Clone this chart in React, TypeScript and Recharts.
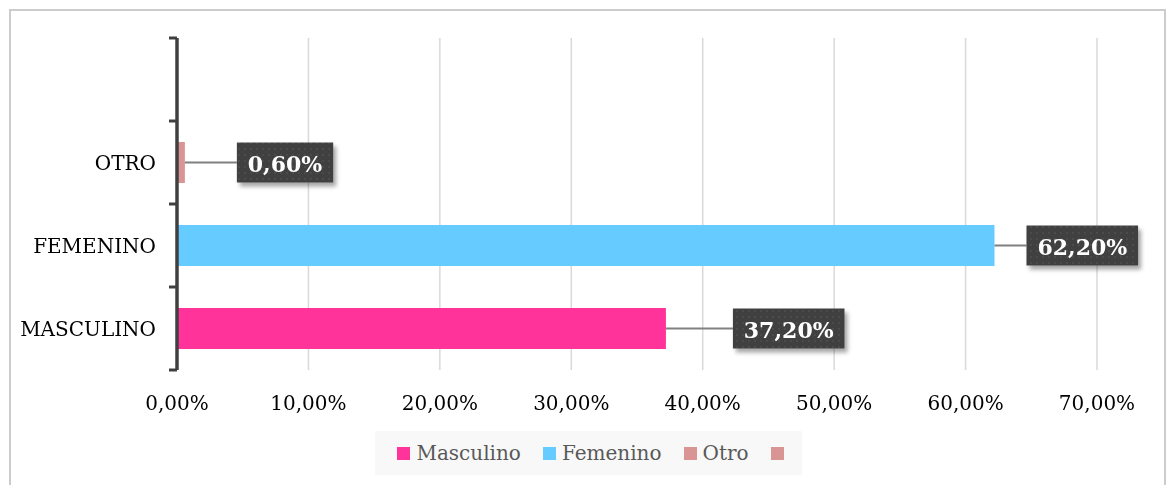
import React from "react";
import {
  BarChart,
  Bar,
  Cell,
  XAxis,
  YAxis,
  CartesianGrid,
  Legend,
  LabelList,
} from "recharts";

// categorías de arriba hacia abajo (la primera queda vacía, como en el original)
const CATEGORIES = ["", "OTRO", "FEMENINO", "MASCULINO"];
const SHARES: (number | null)[] = [null, 0.6, 62.2, 37.2];
const BAR_COLORS = ["#D99594", "#D99594", "#66CCFF", "#FF3399"];

const LEGEND_NAMES = ["Masculino", "Femenino", "Otro", ""];
const LEGEND_COLORS = ["#FF3399", "#66CCFF", "#D99594", "#D99594"];

const X_TICKS = [0, 10, 20, 30, 40, 50, 60, 70];

const data = CATEGORIES.map((cat, i) => ({ cat, value: SHARES[i] }));

// distancia entre el final de la barra y la etiqueta, por categoría
const LABEL_GAPS = [0, 52, 32, 67];

const CHART_W = 1161;
const CHART_H = 469;
const TOP = 30;
const PLOT_H = 332;
const BAND = PLOT_H / CATEGORIES.length;

const SERIF = "'DejaVu Serif', serif";

const fmt = (v: number) => `${v.toFixed(2).replace(".", ",")}%`;

const textWidth = (s: string) =>
  s.split("").reduce((w, c) => w + (c === "," ? 8.4 : c === "%" ? 22 : 15.3), 0);

const renderLabel = (props: any) => {
  const { x, y, width, height, value } = props;
  if (value == null) return null;
  const label = fmt(Number(value));
  const endX = Number(x) + Number(width);
  const cy = Number(y) + Number(height) / 2;
  const idx = SHARES.indexOf(Number(value));
  const gap = LABEL_GAPS[idx] ?? 50;
  const boxW = textWidth(label) + 20;
  const boxX = endX + gap;
  return (
    <g>
      <line x1={endX} y1={cy} x2={boxX} y2={cy} stroke="#808080" strokeWidth={2} />
      <rect
        x={boxX}
        y={cy - 20}
        width={boxW}
        height={40}
        fill="url(#dots)"
        filter="url(#boxShadow)"
      />
      <text
        x={boxX + boxW / 2}
        y={cy + 1}
        textAnchor="middle"
        dominantBaseline="central"
        fill="#fff"
        fontFamily={SERIF}
        fontWeight="bold"
        fontSize={22}
      >
        {label}
      </text>
    </g>
  );
};

const YTick = (props: any) => {
  const { x, y, payload, index } = props;
  const ax = Number(x);
  const last = index === CATEGORIES.length - 1;
  return (
    <g>
      <line x1={ax - 8} y1={y - BAND / 2} x2={ax} y2={y - BAND / 2} stroke="#404040" strokeWidth={3} />
      {last && (
        <line x1={ax - 8} y1={y + BAND / 2} x2={ax} y2={y + BAND / 2} stroke="#404040" strokeWidth={3} />
      )}
      <text
        x={ax - 21}
        y={y}
        textAnchor="end"
        dominantBaseline="central"
        fill="#000"
        fontFamily={SERIF}
        fontSize={20}
      >
        {payload.value}
      </text>
    </g>
  );
};

const XTick = (props: any) => {
  const { x, y, payload } = props;
  return (
    <text
      x={x}
      y={Number(y) + 40}
      textAnchor="middle"
      fill="#000"
      fontFamily={SERIF}
      fontSize={20}
    >
      {fmt(payload.value)}
    </text>
  );
};

const LegendBox = () => (
  <div style={{ display: "flex", justifyContent: "center" }}>
    <div
      style={{
        display: "flex",
        alignItems: "center",
        background: "#f8f8f8",
        height: 44,
        padding: "0 18px 0 22px",
        fontFamily: SERIF,
        fontSize: 20,
        color: "#595959",
      }}
    >
      {LEGEND_NAMES.map((name, i) => (
        <div
          key={i}
          style={{
            display: "flex",
            alignItems: "center",
            marginRight: i < LEGEND_NAMES.length - 1 ? 22 : 0,
          }}
        >
          <span
            style={{
              width: 13,
              height: 13,
              background: LEGEND_COLORS[i],
              display: "inline-block",
              marginRight: name ? 6 : 0,
            }}
          />
          {name && <span>{name}</span>}
        </div>
      ))}
    </div>
  </div>
);

export default function App() {
  return (
    <div style={{ position: "relative", width: CHART_W, height: CHART_H }}>
      <div
        style={{
          position: "fixed",
          left: 9,
          top: 9,
          width: 1153,
          height: 500,
          borderTop: "2px solid #cccccc",
          borderLeft: "2px solid #cccccc",
          borderRight: "2px solid #cccccc",
          pointerEvents: "none",
        }}
      />
      <svg width={0} height={0} style={{ position: "absolute" }}>
        <defs>
          <pattern id="dots" width={6} height={6} patternUnits="userSpaceOnUse">
            <rect width={6} height={6} fill="#404040" />
            <circle cx={3} cy={3} r={0.8} fill="#585858" />
          </pattern>
          <filter id="boxShadow" x="-20%" y="-30%" width="150%" height="180%">
            <feDropShadow dx={3} dy={4} stdDeviation={2} floodColor="#000" floodOpacity={0.35} />
          </filter>
        </defs>
      </svg>
      <BarChart
        width={CHART_W}
        height={CHART_H}
        data={data}
        layout="vertical"
        margin={{ top: TOP, right: 72, left: 0, bottom: 2 }}
        barSize={41}
      >
        <CartesianGrid horizontal={false} stroke="#d9d9d9" strokeWidth={1.5} />
        <XAxis
          type="number"
          domain={[0, 70]}
          ticks={X_TICKS}
          axisLine={false}
          tickLine={false}
          tickSize={0}
          tickMargin={0}
          height={61}
          tick={<XTick />}
          interval={0}
        />
        <YAxis
          type="category"
          dataKey="cat"
          width={169}
          axisLine={{ stroke: "#404040", strokeWidth: 3.5 }}
          tickLine={false}
          tickSize={0}
          tickMargin={0}
          tick={<YTick />}
          interval={0}
        />
        <Legend
          verticalAlign="bottom"
          content={<LegendBox />}
          wrapperStyle={{ left: 0, width: CHART_W }}
        />
        <Bar dataKey="value" isAnimationActive={false}>
          {data.map((d, i) => (
            <Cell key={i} fill={BAR_COLORS[i]} />
          ))}
          <LabelList dataKey="value" content={renderLabel} />
        </Bar>
      </BarChart>
    </div>
  );
}
